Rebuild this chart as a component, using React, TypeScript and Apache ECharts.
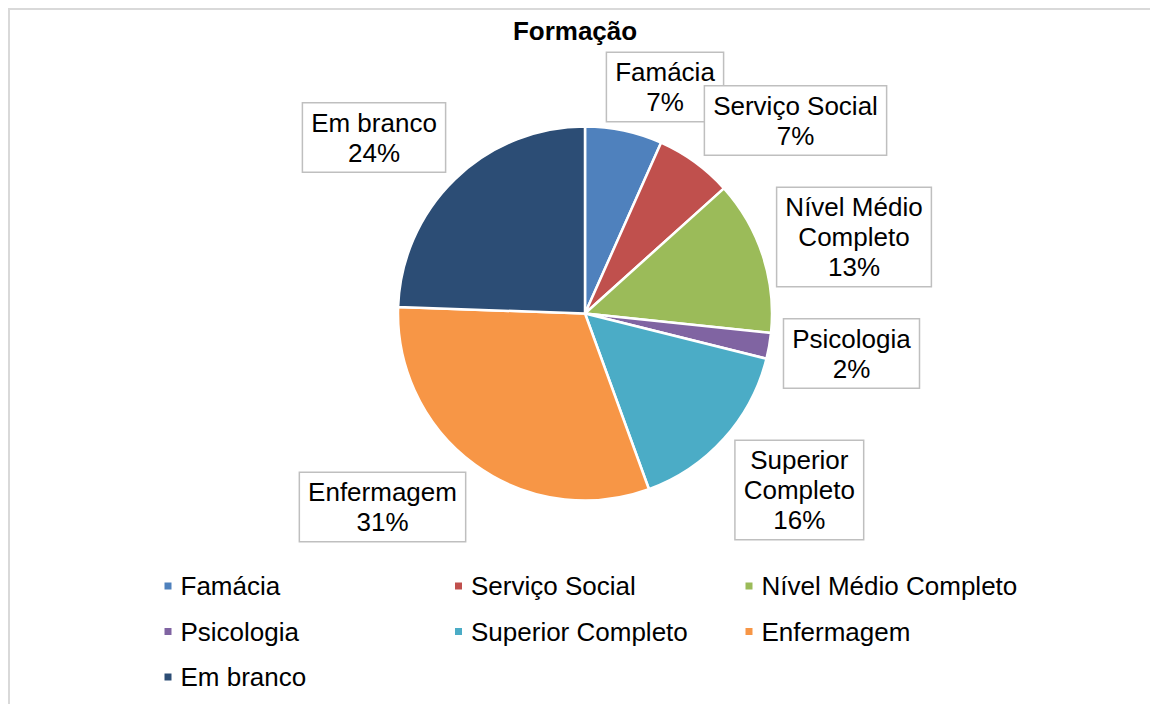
import React, { useEffect, useRef } from "react";
import * as echarts from "echarts";

const categories = [
  "Famácia",
  "Serviço Social",
  "Nível Médio Completo",
  "Psicologia",
  "Superior Completo",
  "Enfermagem",
  "Em branco",
];
const counts = [3, 3, 6, 1, 7, 14, 11];
const colors = ["#4F81BD", "#C0504D", "#9BBB59", "#8064A2", "#4BACC6", "#F79646", "#2C4D75"];
const title = "Formação";

// label box centers (page px), by slice index
const labelCenters: [number, number][] = [
  [665, 87],
  [795.5, 120.5],
  [854, 237],
  [851.5, 353.5],
  [799.3, 490],
  [382.5, 507],
  [374, 137.5],
];

export default function App() {
  const ref = useRef<HTMLDivElement>(null);
  useEffect(() => {
    if (!ref.current) return;
    const chart = echarts.init(ref.current, null, { renderer: "svg" });
    const font = "'Liberation Sans', Arial, sans-serif";
    chart.setOption({
      animation: false,
      color: colors,
      textStyle: { fontFamily: font },
      title: {
        text: title,
        left: "center",
        top: 13,
        textStyle: { fontFamily: font, fontSize: 26, fontWeight: "bold", color: "#000" },
      },
      graphic: [
        {
          type: "rect",
          shape: { x: 9, y: 9, width: 1200, height: 800 },
          style: { fill: "none", stroke: "#D9D9D9", lineWidth: 2 },
          silent: true,
        },
      ],
      legend: {
        data: categories,
        left: 157.5,
        top: 562,
        width: 880,
        orient: "horizontal",
        itemWidth: 9,
        itemHeight: 9,
        itemGap: 7.5,
        icon: "rect",
        textStyle: {
          fontFamily: font,
          fontSize: 26,
          color: "#000",
          width: 265,
          lineHeight: 38,
          padding: [0, 0, 0, 3],
        },
      },
      series: [
        {
          type: "pie",
          center: [585, 313.5],
          radius: [0, 187],
          startAngle: 90,
          clockwise: true,
          itemStyle: { borderColor: "#fff", borderWidth: 2.5 },
          label: {
            show: true,
            formatter: (p: any) =>
              String(p.name).replace(" Completo", "\nCompleto") + "\n" + Math.round(p.percent) + "%",
            fontFamily: font,
            fontSize: 26,
            lineHeight: 30,
            color: "#000",
            align: "center",
            backgroundColor: "#fff",
            borderColor: "#BFBFBF",
            borderWidth: 1.5,
            padding: [4, 8, 4, 8],
          },
          labelLine: { show: false },
          labelLayout: (params: any) => {
            const c = labelCenters[params.dataIndex];
            return { x: c[0], y: c[1], align: "center", verticalAlign: "middle" };
          },
          emphasis: { disabled: true },
          data: categories.map((name, i) => ({ name, value: counts[i] })),
        },
      ],
    });
    return () => chart.dispose();
  }, []);
  return (
    <div
      ref={ref}
      style={{ position: "fixed", left: 0, top: 0, width: 1150, height: 704, background: "#fff" }}
    />
  );
}
